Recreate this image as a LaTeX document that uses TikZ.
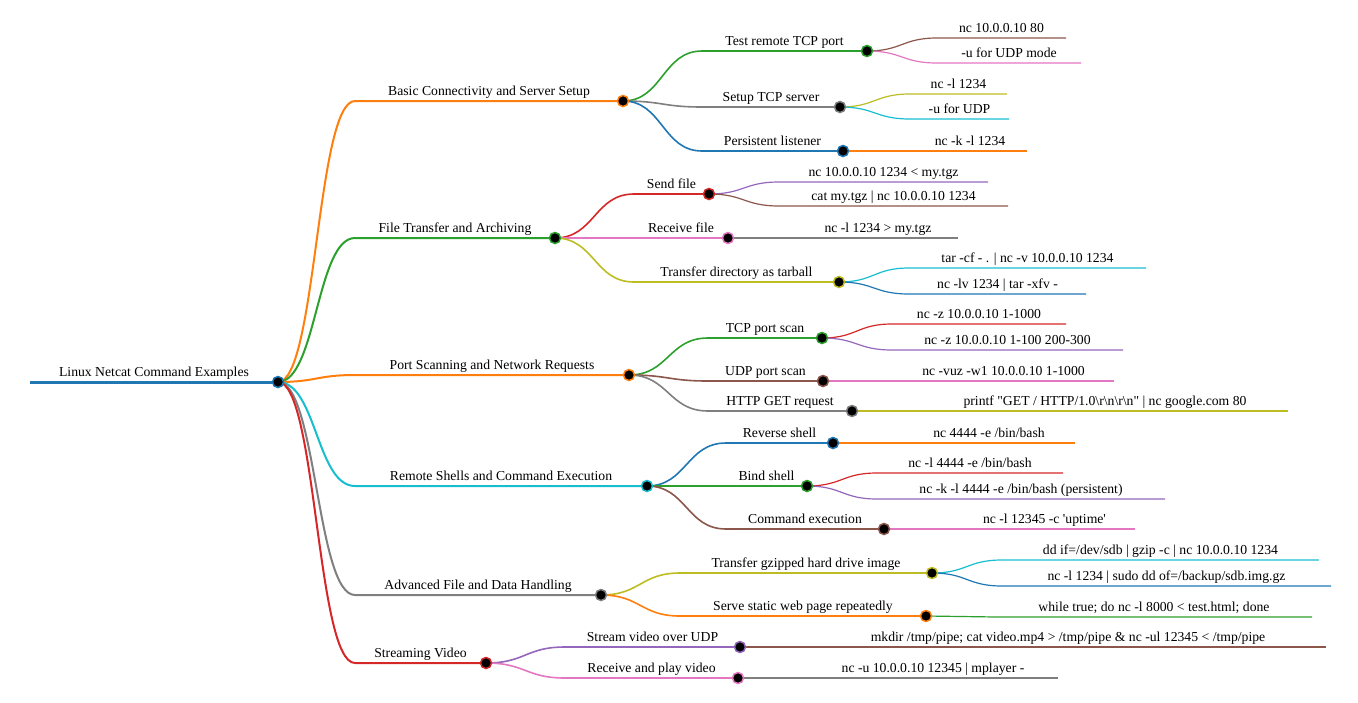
\documentclass[tikz,border=0pt]{standalone}
\usepackage{fontspec}
\setmainfont{Liberation Serif}
\usepackage{tikz}
\usetikzlibrary{calc, math}
\definecolor{mmblue}{HTML}{1F77B4}
\definecolor{mmorange}{HTML}{FF7F0E}
\definecolor{mmgreen}{HTML}{2CA02C}
\definecolor{mmred}{HTML}{D62728}
\definecolor{mmpurple}{HTML}{9467BD}
\definecolor{mmbrown}{HTML}{8C564B}
\definecolor{mmpink}{HTML}{E377C2}
\definecolor{mmgray}{HTML}{7F7F7F}
\definecolor{mmolive}{HTML}{BCBD22}
\definecolor{mmcyan}{HTML}{17BECF}

\begin{document}
\begin{tikzpicture}[x=1pt, y=-1pt,
  branch/.style={to path={let \p1=(\tikztostart), \p2=(\tikztotarget) in
    .. controls ({0.5*\x1+0.5*\x2},\y1) and ({0.5*\x1+0.5*\x2},\y2) .. (\tikztotarget)}},
  lvlroot/.style={line width=3pt},
  lvlone/.style={line width=2pt},
  lvltwo/.style={line width=1.6pt},
  lvlthree/.style={line width=1.2pt},
  lbl/.style={anchor=base, yshift=6pt, inner sep=0pt, font=\fontsize{13.7}{16}\selectfont},
  knot/.style={fill=black, line width=1.5pt}]
  \tikzmath{
    \xone=355;
  }
  \useasboundingbox (0,0) rectangle (1358,702);

  % Root
  \coordinate (rt-s) at (30,382);
  \coordinate (rt) at (278,382);
  \draw[mmblue, lvlroot] (rt-s) -- (rt);
  \node[lbl] (rt-t) at ($(rt-s)!0.5!(rt)$) {Linux Netcat Command Examples};

  % First level
  \coordinate (basic-s) at (\xone,101);  \coordinate (basic) at (623,101);
  \coordinate (xfer-s) at (\xone,238);   \coordinate (xfer) at (555,238);
  \coordinate (scan-s) at (\xone,375);   \coordinate (scan) at (629,375);
  \coordinate (shell-s) at (\xone,486);  \coordinate (shell) at (647,486);
  \coordinate (adv-s) at (\xone,595);    \coordinate (adv) at (601,595);
  \coordinate (video-s) at (\xone,663);  \coordinate (video) at (486,663);
  \draw[mmorange, lvlone] (rt) to[branch] (basic-s) -- (basic);
  \draw[mmgreen, lvlone] (rt) to[branch] (xfer-s) -- (xfer);
  \draw[mmorange, lvlone] (rt) to[branch] (scan-s) -- (scan);
  \draw[mmcyan, lvlone] (rt) to[branch] (shell-s) -- (shell);
  \draw[mmgray, lvlone] (rt) to[branch] (adv-s) -- (adv);
  \draw[mmred, lvlone] (rt) to[branch] (video-s) -- (video);
  \node[lbl] (basic-t) at ($(basic-s)!0.5!(basic)$) {Basic Connectivity and Server Setup};
  \node[lbl] (xfer-t) at ($(xfer-s)!0.5!(xfer)$) {File Transfer and Archiving};
  \node[lbl] (scan-t) at ($(scan-s)!0.5!(scan)$) {Port Scanning and Network Requests};
  \node[lbl] (shell-t) at ($(shell-s)!0.5!(shell)$) {Remote Shells and Command Execution};
  \node[lbl] (adv-t) at ($(adv-s)!0.5!(adv)$) {Advanced File and Data Handling};
  \node[lbl] (video-t) at ($(video-s)!0.5!(video)$) {Streaming Video};

  % Basic connectivity
  \coordinate (basic-tcp-s) at (702,51);   \coordinate (basic-tcp) at (867,51);
  \coordinate (basic-srv-s) at (702,107);  \coordinate (basic-srv) at (840,107);
  \coordinate (basic-lst-s) at (702,151);  \coordinate (basic-lst) at (843,151);
  \draw[mmgreen, lvltwo] (basic) to[branch] (basic-tcp-s) -- (basic-tcp);
  \draw[mmgray, lvltwo] (basic) to[branch] (basic-srv-s) -- (basic-srv);
  \draw[mmblue, lvltwo] (basic) to[branch] (basic-lst-s) -- (basic-lst);
  \node[lbl] (basic-tcp-t) at ($(basic-tcp-s)!0.5!(basic-tcp)$) {Test remote TCP port};
  \node[lbl] (basic-srv-t) at ($(basic-srv-s)!0.5!(basic-srv)$) {Setup TCP server};
  \node[lbl] (basic-lst-t) at ($(basic-lst-s)!0.5!(basic-lst)$) {Persistent listener};
  \coordinate (basic-tcp-1s) at (937,38);  \coordinate (basic-tcp-1) at (1066,38);
  \coordinate (basic-tcp-2s) at (937,63);  \coordinate (basic-tcp-2) at (1081,63);
  \coordinate (basic-srv-1s) at (910,94);  \coordinate (basic-srv-1) at (1007,94);
  \coordinate (basic-srv-2s) at (910,119); \coordinate (basic-srv-2) at (1009,119);
  \coordinate (basic-lst-1s) at (913,151); \coordinate (basic-lst-1) at (1027,151);
  \draw[mmbrown, lvlthree] (basic-tcp) to[branch] (basic-tcp-1s) -- (basic-tcp-1);
  \draw[mmpink, lvlthree] (basic-tcp) to[branch] (basic-tcp-2s) -- (basic-tcp-2);
  \draw[mmolive, lvlthree] (basic-srv) to[branch] (basic-srv-1s) -- (basic-srv-1);
  \draw[mmcyan, lvlthree] (basic-srv) to[branch] (basic-srv-2s) -- (basic-srv-2);
  \draw[mmorange, lvlthree] (basic-lst) to[branch] (basic-lst-1s) -- (basic-lst-1);
  \node[lbl] (basic-tcp-1t) at ($(basic-tcp-1s)!0.5!(basic-tcp-1)$) {nc 10.0.0.10 80};
  \node[lbl] (basic-tcp-2t) at ($(basic-tcp-2s)!0.5!(basic-tcp-2)$) {-u for UDP mode};
  \node[lbl] (basic-srv-1t) at ($(basic-srv-1s)!0.5!(basic-srv-1)$) {nc -l 1234};
  \node[lbl] (basic-srv-2t) at ($(basic-srv-2s)!0.5!(basic-srv-2)$) {-u for UDP};
  \node[lbl] (basic-lst-1t) at ($(basic-lst-1s)!0.5!(basic-lst-1)$) {nc -k -l 1234};

  % File transfer
  \coordinate (xfer-send-s) at (634,194);  \coordinate (xfer-send) at (709,194);
  \coordinate (xfer-recv-s) at (634,238);  \coordinate (xfer-recv) at (728,238);
  \coordinate (xfer-tar-s) at (634,282);   \coordinate (xfer-tar) at (839,282);
  \draw[mmred, lvltwo] (xfer) to[branch] (xfer-send-s) -- (xfer-send);
  \draw[mmpink, lvltwo] (xfer) to[branch] (xfer-recv-s) -- (xfer-recv);
  \draw[mmolive, lvltwo] (xfer) to[branch] (xfer-tar-s) -- (xfer-tar);
  \node[lbl] (xfer-send-t) at ($(xfer-send-s)!0.5!(xfer-send)$) {Send file};
  \node[lbl] (xfer-recv-t) at ($(xfer-recv-s)!0.5!(xfer-recv)$) {Receive file};
  \node[lbl] (xfer-tar-t) at ($(xfer-tar-s)!0.5!(xfer-tar)$) {Transfer directory as tarball};
  \coordinate (xfer-send-1s) at (779,182); \coordinate (xfer-send-1) at (988,182);
  \coordinate (xfer-send-2s) at (779,206); \coordinate (xfer-send-2) at (1008,206);
  \coordinate (xfer-recv-1s) at (798,238); \coordinate (xfer-recv-1) at (958,238);
  \coordinate (xfer-tar-1s) at (909,268);  \coordinate (xfer-tar-1) at (1146,268);
  \coordinate (xfer-tar-2s) at (909,294);  \coordinate (xfer-tar-2) at (1086,294);
  \draw[mmpurple, lvlthree] (xfer-send) to[branch] (xfer-send-1s) -- (xfer-send-1);
  \draw[mmbrown, lvlthree] (xfer-send) to[branch] (xfer-send-2s) -- (xfer-send-2);
  \draw[mmgray, lvlthree] (xfer-recv) to[branch] (xfer-recv-1s) -- (xfer-recv-1);
  \draw[mmcyan, lvlthree] (xfer-tar) to[branch] (xfer-tar-1s) -- (xfer-tar-1);
  \draw[mmblue, lvlthree] (xfer-tar) to[branch] (xfer-tar-2s) -- (xfer-tar-2);
  \node[lbl] (xfer-send-1t) at ($(xfer-send-1s)!0.5!(xfer-send-1)$) {nc 10.0.0.10 1234 < my.tgz};
  \node[lbl] (xfer-send-2t) at ($(xfer-send-2s)!0.5!(xfer-send-2)$) {cat my.tgz | nc 10.0.0.10 1234};
  \node[lbl] (xfer-recv-1t) at ($(xfer-recv-1s)!0.5!(xfer-recv-1)$) {nc -l 1234 > my.tgz};
  \node[lbl] (xfer-tar-1t) at ($(xfer-tar-1s)!0.5!(xfer-tar-1)$) {tar -cf - . | nc -v 10.0.0.10 1234};
  \node[lbl] (xfer-tar-2t) at ($(xfer-tar-2s)!0.5!(xfer-tar-2)$) {nc -lv 1234 | tar -xfv -};

  % Port scanning
  \coordinate (scan-tcp-s) at (708,338);   \coordinate (scan-tcp) at (822,338);
  \coordinate (scan-udp-s) at (708,381);   \coordinate (scan-udp) at (823,381);
  \coordinate (scan-http-s) at (708,411);  \coordinate (scan-http) at (852,411);
  \draw[mmgreen, lvltwo] (scan) to[branch] (scan-tcp-s) -- (scan-tcp);
  \draw[mmbrown, lvltwo] (scan) to[branch] (scan-udp-s) -- (scan-udp);
  \draw[mmgray, lvltwo] (scan) to[branch] (scan-http-s) -- (scan-http);
  \node[lbl] (scan-tcp-t) at ($(scan-tcp-s)!0.5!(scan-tcp)$) {TCP port scan};
  \node[lbl] (scan-udp-t) at ($(scan-udp-s)!0.5!(scan-udp)$) {UDP port scan};
  \node[lbl] (scan-http-t) at ($(scan-http-s)!0.5!(scan-http)$) {HTTP GET request};
  \coordinate (scan-tcp-1s) at (892,324);  \coordinate (scan-tcp-1) at (1066,324);
  \coordinate (scan-tcp-2s) at (892,350);  \coordinate (scan-tcp-2) at (1123,350);
  \coordinate (scan-udp-1s) at (893,381);  \coordinate (scan-udp-1) at (1114,381);
  \coordinate (scan-http-1s) at (922,411); \coordinate (scan-http-1) at (1288,411);
  \draw[mmred, lvlthree] (scan-tcp) to[branch] (scan-tcp-1s) -- (scan-tcp-1);
  \draw[mmpurple, lvlthree] (scan-tcp) to[branch] (scan-tcp-2s) -- (scan-tcp-2);
  \draw[mmpink, lvlthree] (scan-udp) to[branch] (scan-udp-1s) -- (scan-udp-1);
  \draw[mmolive, lvlthree] (scan-http) to[branch] (scan-http-1s) -- (scan-http-1);
  \node[lbl] (scan-tcp-1t) at ($(scan-tcp-1s)!0.5!(scan-tcp-1)$) {nc -z 10.0.0.10 1-1000};
  \node[lbl] (scan-tcp-2t) at ($(scan-tcp-2s)!0.5!(scan-tcp-2)$) {nc -z 10.0.0.10 1-100 200-300};
  \node[lbl] (scan-udp-1t) at ($(scan-udp-1s)!0.5!(scan-udp-1)$) {nc -vuz -w1 10.0.0.10 1-1000};
  \node[lbl] (scan-http-1t) at ($(scan-http-1s)!0.5!(scan-http-1)$)
    {printf \textquotedbl GET / HTTP/1.0\textbackslash r\textbackslash n\textbackslash r\textbackslash n\textquotedbl\ | nc google.com 80};

  % Remote shells
  \coordinate (shell-rev-s) at (726,443);  \coordinate (shell-rev) at (833,443);
  \coordinate (shell-bind-s) at (726,486); \coordinate (shell-bind) at (807,486);
  \coordinate (shell-cmd-s) at (726,529);  \coordinate (shell-cmd) at (884,529);
  \draw[mmblue, lvltwo] (shell) to[branch] (shell-rev-s) -- (shell-rev);
  \draw[mmgreen, lvltwo] (shell) to[branch] (shell-bind-s) -- (shell-bind);
  \draw[mmbrown, lvltwo] (shell) to[branch] (shell-cmd-s) -- (shell-cmd);
  \node[lbl] (shell-rev-t) at ($(shell-rev-s)!0.5!(shell-rev)$) {Reverse shell};
  \node[lbl] (shell-bind-t) at ($(shell-bind-s)!0.5!(shell-bind)$) {Bind shell};
  \node[lbl] (shell-cmd-t) at ($(shell-cmd-s)!0.5!(shell-cmd)$) {Command execution};
  \coordinate (shell-rev-1s) at (903,443);  \coordinate (shell-rev-1) at (1075,443);
  \coordinate (shell-bind-1s) at (877,473); \coordinate (shell-bind-1) at (1063,473);
  \coordinate (shell-bind-2s) at (877,499); \coordinate (shell-bind-2) at (1165,499);
  \coordinate (shell-cmd-1s) at (954,529);  \coordinate (shell-cmd-1) at (1135,529);
  \draw[mmorange, lvlthree] (shell-rev) to[branch] (shell-rev-1s) -- (shell-rev-1);
  \draw[mmred, lvlthree] (shell-bind) to[branch] (shell-bind-1s) -- (shell-bind-1);
  \draw[mmpurple, lvlthree] (shell-bind) to[branch] (shell-bind-2s) -- (shell-bind-2);
  \draw[mmpink, lvlthree] (shell-cmd) to[branch] (shell-cmd-1s) -- (shell-cmd-1);
  \node[lbl] (shell-rev-1t) at ($(shell-rev-1s)!0.5!(shell-rev-1)$) {nc 4444 -e /bin/bash};
  \node[lbl] (shell-bind-1t) at ($(shell-bind-1s)!0.5!(shell-bind-1)$) {nc -l 4444 -e /bin/bash};
  \node[lbl] (shell-bind-2t) at ($(shell-bind-2s)!0.5!(shell-bind-2)$) {nc -k -l 4444 -e /bin/bash (persistent)};
  \node[lbl] (shell-cmd-1t) at ($(shell-cmd-1s)!0.5!(shell-cmd-1)$) {nc -l 12345 -c \textquotesingle uptime\textquotesingle};

  % Advanced file handling
  \coordinate (adv-img-s) at (680,573);   \coordinate (adv-img) at (932,573);
  \coordinate (adv-web-s) at (680,616);   \coordinate (adv-web) at (926,616);
  \draw[mmolive, lvltwo] (adv) to[branch] (adv-img-s) -- (adv-img);
  \draw[mmorange, lvltwo] (adv) to[branch] (adv-web-s) -- (adv-web);
  \node[lbl] (adv-img-t) at ($(adv-img-s)!0.5!(adv-img)$) {Transfer gzipped hard drive image};
  \node[lbl] (adv-web-t) at ($(adv-web-s)!0.5!(adv-web)$) {Serve static web page repeatedly};
  \coordinate (adv-img-1s) at (1002,560); \coordinate (adv-img-1) at (1319,560);
  \coordinate (adv-img-2s) at (1002,586); \coordinate (adv-img-2) at (1331,586);
  \coordinate (adv-web-1s) at (996,617);  \coordinate (adv-web-1) at (1312,617);
  \draw[mmcyan, lvlthree] (adv-img) to[branch] (adv-img-1s) -- (adv-img-1);
  \draw[mmblue, lvlthree] (adv-img) to[branch] (adv-img-2s) -- (adv-img-2);
  \draw[mmgreen, lvlthree] (adv-web) to[branch] (adv-web-1s) -- (adv-web-1);
  \node[lbl] (adv-img-1t) at ($(adv-img-1s)!0.5!(adv-img-1)$) {dd if=/dev/sdb | gzip -c | nc 10.0.0.10 1234};
  \node[lbl] (adv-img-2t) at ($(adv-img-2s)!0.5!(adv-img-2)$) {nc -l 1234 | sudo dd of=/backup/sdb.img.gz};
  \node[lbl] (adv-web-1t) at ($(adv-web-1s)!0.5!(adv-web-1)$) {while true; do nc -l 8000 < test.html; done};

  % Streaming video
  \coordinate (video-udp-s) at (565,647);  \coordinate (video-udp) at (740,647);
  \coordinate (video-play-s) at (565,678); \coordinate (video-play) at (738,678);
  \draw[mmpurple, lvltwo] (video) to[branch] (video-udp-s) -- (video-udp);
  \draw[mmpink, lvltwo] (video) to[branch] (video-play-s) -- (video-play);
  \node[lbl] (video-udp-t) at ($(video-udp-s)!0.5!(video-udp)$) {Stream video over UDP};
  \node[lbl] (video-play-t) at ($(video-play-s)!0.5!(video-play)$) {Receive and play video};
  \coordinate (video-udp-1s) at (810,647);  \coordinate (video-udp-1) at (1326,647);
  \coordinate (video-play-1s) at (808,678); \coordinate (video-play-1) at (1058,678);
  \draw[mmbrown, lvlthree] (video-udp) to[branch] (video-udp-1s) -- (video-udp-1);
  \draw[mmgray, lvlthree] (video-play) to[branch] (video-play-1s) -- (video-play-1);
  \node[lbl] (video-udp-1t) at ($(video-udp-1s)!0.5!(video-udp-1)$)
    {mkdir /tmp/pipe; cat video.mp4 > /tmp/pipe \& nc -ul 12345 < /tmp/pipe};
  \node[lbl] (video-play-1t) at ($(video-play-1s)!0.5!(video-play-1)$) {nc -u 10.0.0.10 12345 | mplayer -};

  % Draw the knots on top of the lines
  \filldraw[knot, draw=mmblue] (rt) circle [radius=5.5];
  \filldraw[knot, draw=mmorange] (basic) circle [radius=5.5];
  \filldraw[knot, draw=mmgreen] (xfer) circle [radius=5.5];
  \filldraw[knot, draw=mmorange] (scan) circle [radius=5.5];
  \filldraw[knot, draw=mmcyan] (shell) circle [radius=5.5];
  \filldraw[knot, draw=mmgray] (adv) circle [radius=5.5];
  \filldraw[knot, draw=mmred] (video) circle [radius=5.5];
  \filldraw[knot, draw=mmgreen] (basic-tcp) circle [radius=5.5];
  \filldraw[knot, draw=mmgray] (basic-srv) circle [radius=5.5];
  \filldraw[knot, draw=mmblue] (basic-lst) circle [radius=5.5];
  \filldraw[knot, draw=mmred] (xfer-send) circle [radius=5.5];
  \filldraw[knot, draw=mmpink] (xfer-recv) circle [radius=5.5];
  \filldraw[knot, draw=mmolive] (xfer-tar) circle [radius=5.5];
  \filldraw[knot, draw=mmgreen] (scan-tcp) circle [radius=5.5];
  \filldraw[knot, draw=mmbrown] (scan-udp) circle [radius=5.5];
  \filldraw[knot, draw=mmgray] (scan-http) circle [radius=5.5];
  \filldraw[knot, draw=mmblue] (shell-rev) circle [radius=5.5];
  \filldraw[knot, draw=mmgreen] (shell-bind) circle [radius=5.5];
  \filldraw[knot, draw=mmbrown] (shell-cmd) circle [radius=5.5];
  \filldraw[knot, draw=mmolive] (adv-img) circle [radius=5.5];
  \filldraw[knot, draw=mmorange] (adv-web) circle [radius=5.5];
  \filldraw[knot, draw=mmpurple] (video-udp) circle [radius=5.5];
  \filldraw[knot, draw=mmpink] (video-play) circle [radius=5.5];
\end{tikzpicture}
\end{document}
